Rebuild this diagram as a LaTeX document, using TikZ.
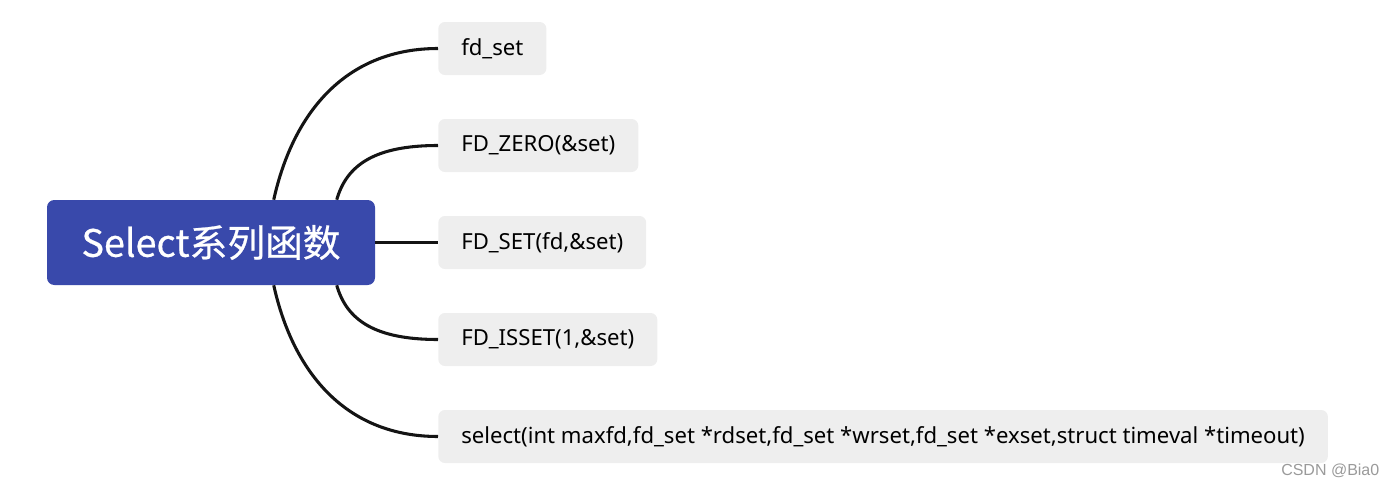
\documentclass[tikz,border=0pt]{standalone}
\usepackage{fontspec}
\setmainfont{Noto Sans}
\newfontfamily\cjk[FakeBold=0.6]{Noto Sans CJK SC}
\newfontfamily\wmfont{Liberation Sans}
\usetikzlibrary{calc}
\definecolor{rootblue}{HTML}{3949AB}
\definecolor{leafgray}{HTML}{EEEEEE}
\definecolor{linecol}{HTML}{141414}
\definecolor{wmgray}{HTML}{9A9A9A}
\begin{document}
\begin{tikzpicture}[x=0.75pt,y=-0.75pt,
  rootbox/.style={fill=rootblue,rounded corners=5.5pt,minimum width=246pt,minimum height=63.75pt,inner sep=0pt,text=white,font=\cjk\fontsize{28.3}{33}\selectfont},
  leaf/.style={fill=leafgray,rounded corners=5pt,anchor=west,minimum height=39.75pt,inner xsep=17.25pt,inner ysep=0pt,text=black,font=\fontsize{16.6}{19}\selectfont},
  conn/.style={draw=linecol,line width=2.3pt}]
\useasboundingbox (0,0) rectangle (1397,489);
\node[rootbox] (root) at (211,242.5) {Select系列函数};
\node[leaf] (a) at (438,48.5) {fd\_set};
\node[leaf] (b) at (438,145.5) {FD\_ZERO(\&set)};
\node[leaf] (c) at (438,242.5) {FD\_SET(fd,\&set)};
\node[leaf] (d) at (438,339.5) {FD\_ISSET(1,\&set)};
\node[leaf] (e) at (438,436.5) {select(int maxfd,fd\_set *rdset,fd\_set *wrset,fd\_set *exset,struct timeval *timeout)};
\coordinate (s1) at ($(root.north west)+(227,0)$);
\coordinate (s2) at ($(root.north west)+(290,0)$);
\coordinate (s4) at ($(root.south west)+(290,0)$);
\coordinate (s5) at ($(root.south west)+(227,0)$);
\draw[conn] (s1) .. controls +(20,-90) and +(-90,0) .. (a.west);
\draw[conn] (s2) .. controls +(10,-35) and +(-63,0) .. (b.west);
\draw[conn] (root.east) -- (c.west);
\draw[conn] (s4) .. controls +(10,35) and +(-63,0) .. (d.west);
\draw[conn] (s5) .. controls +(20,90) and +(-90,0) .. (e.west);
\node[text=wmgray,font=\wmfont\fontsize{12}{14}\selectfont,anchor=east] (wm) at (1384,471) {CSDN @Bia0};
\end{tikzpicture}
\end{document}
